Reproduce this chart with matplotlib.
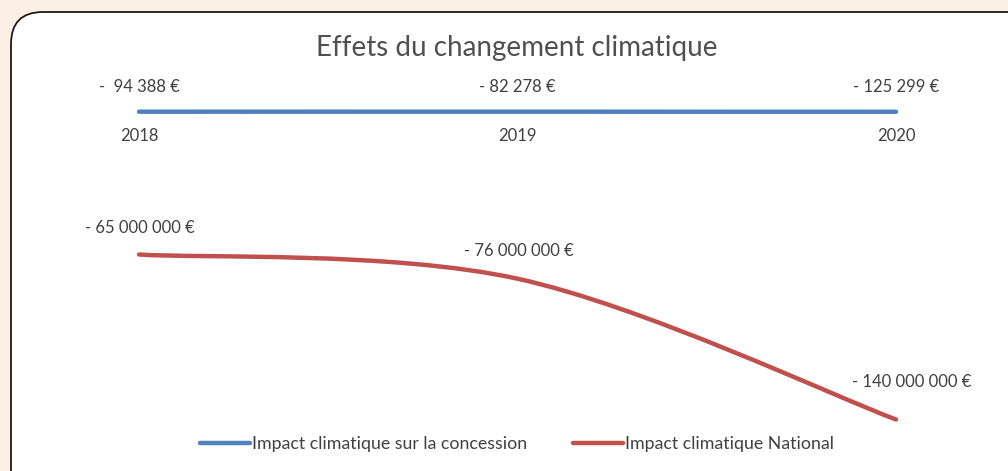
import numpy as np
import matplotlib.pyplot as plt
from matplotlib.path import Path
from matplotlib.patches import PathPatch, FancyBboxPatch
from matplotlib.lines import Line2D

plt.rcParams['font.family'] = ['Lato', 'DejaVu Sans']

years = ["2018", "2019", "2020"]
concession = [-94388, -82278, -125299]
national = [-65000000, -76000000, -140000000]
concession_labels = ["-  94 388 €", "- 82 278 €", "- 125 299 €"]
national_labels = ["- 65 000 000 €", "- 76 000 000 €", "- 140 000 000 €"]

BLUE = "#4F81BD"
RED = "#C0504D"
TXT = "#404040"
FS = 12

W, H = 1008, 471
fig = plt.figure(figsize=(W / 100, H / 100), dpi=100)
fig.patch.set_facecolor("#FCEFE6")

# panel behind the chart
bg = fig.add_axes([0, 0, 1, 1])
bg.set_xlim(0, W)
bg.set_ylim(H, 0)
bg.axis("off")
bg.add_patch(FancyBboxPatch((11, 12), W + 40, H + 40,
                            boxstyle="round,pad=0,rounding_size=32",
                            facecolor="white", edgecolor="#1a1a1a", linewidth=1.3))

ax = fig.add_axes([0, 0, 1, 1])
ax.patch.set_alpha(0)
px_x = 378.5
ax.set_xlim(-139 / px_x, (W - 139) / px_x)
zero_px, scale = 111.5, 2.2  # pixels, pixels per million
ax.set_ylim(-(H - zero_px) / scale, zero_px / scale)
for s in ax.spines.values():
    s.set_visible(False)
ax.spines["bottom"].set_position(("data", 0))
ax.set_yticks([])

x = np.arange(len(years))
ax.set_xticks(x)
ax.set_xticklabels(years)
ax.tick_params(axis="x", length=0, pad=12, labelsize=FS, labelcolor=TXT)

cm = np.array(concession) / 1e6
nm = np.array(national) / 1e6
ax.plot(x, cm, color=BLUE, lw=3.2, solid_capstyle="round")

# smoothed line (Excel style bezier through the points)
pts = np.column_stack([x, nm])
verts = [pts[0]]
codes = [Path.MOVETO]
n = len(pts)
for i in range(n - 1):
    p0 = pts[i - 1] if i > 0 else pts[i]
    p1, p2 = pts[i], pts[i + 1]
    p3 = pts[i + 2] if i + 2 < n else pts[i + 1]
    c1 = p1 + (p2 - p0) / 6
    c2 = p2 - (p3 - p1) / 6
    verts += [c1, c2, p2]
    codes += [Path.CURVE4] * 3
ax.add_patch(PathPatch(Path(verts, codes), facecolor="none", edgecolor=RED,
                       lw=3.2, capstyle="round"))

for i in range(n):
    ax.annotate(concession_labels[i], (x[i], cm[i]), xytext=(0, 25),
                textcoords="offset pixels", ha="center", va="center",
                fontsize=FS, color=TXT)
nat_off = [(1, 26), (1, 28), (16, 37)]
for i in range(n):
    ax.annotate(national_labels[i], (x[i], nm[i]), xytext=nat_off[i],
                textcoords="offset pixels", ha="center", va="center",
                fontsize=FS, color=TXT)

fig.text(517 / W, 1 - 48 / H, "Effets du changement climatique",
         ha="center", va="center", fontsize=20, color="#505050")

handles = [Line2D([], [], color=BLUE, lw=3.2, solid_capstyle="round"),
           Line2D([], [], color=RED, lw=3.2, solid_capstyle="round")]
fig.legend(handles, ["Impact climatique sur la concession", "Impact climatique National"],
           loc="center", bbox_to_anchor=(517 / W, 1 - 444 / H), ncol=2,
           frameon=False, fontsize=12.8, labelcolor=TXT, handlelength=2.8,
           handletextpad=0.1, columnspacing=2.6)

fig.savefig("out.png", dpi=100, facecolor=fig.get_facecolor())
